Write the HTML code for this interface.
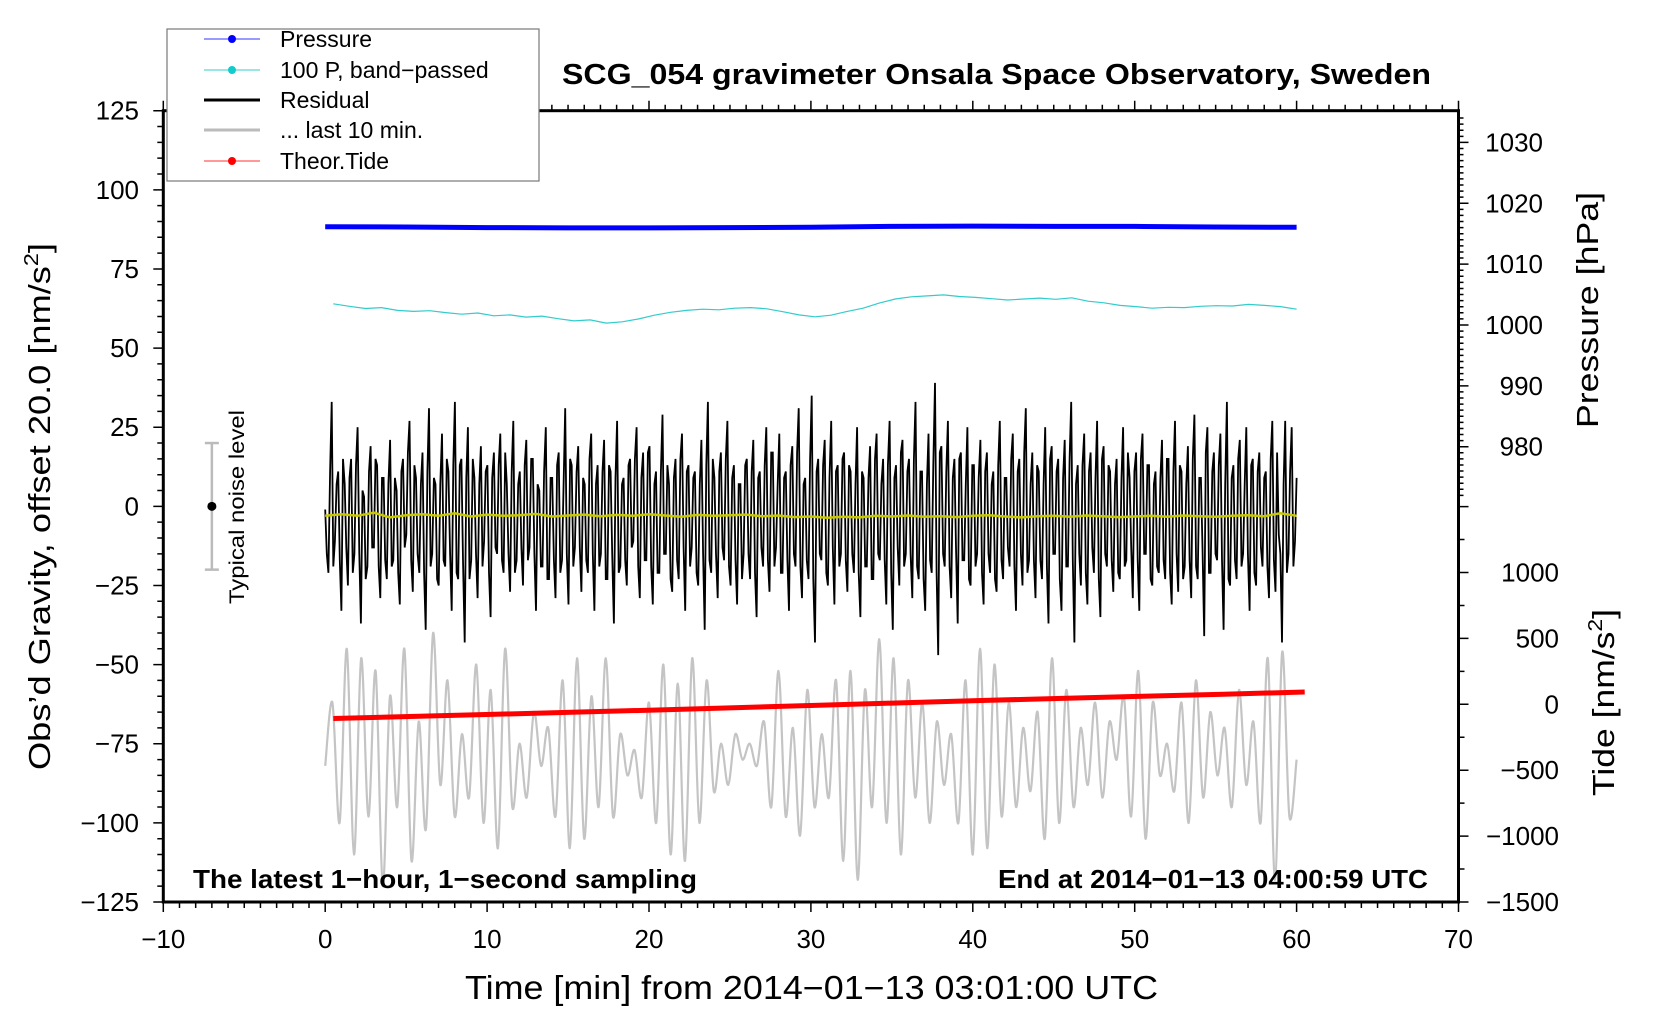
<!DOCTYPE html>
<html><head><meta charset="utf-8"><style>
html,body{margin:0;padding:0;background:#fff;}
svg{display:block;font-family:"Liberation Sans",sans-serif;}
</style></head><body>
<svg id="chart" width="1660" height="1020" viewBox="0 0 1660 1020" xmlns="http://www.w3.org/2000/svg">
<rect width="1660" height="1020" fill="#fff"/>
<g id="marks"></g>
<g id="axes"></g>
<rect x="163.3" y="110.7" width="1295.2" height="791.3" fill="none" stroke="#000" stroke-width="3"/>
<text x="562" y="84" font-size="29" font-weight="bold" textLength="869" lengthAdjust="spacingAndGlyphs">SCG_054 gravimeter Onsala Space Observatory, Sweden</text>
<text x="193" y="888" font-size="26" font-weight="bold" textLength="504" lengthAdjust="spacingAndGlyphs">The latest 1−hour, 1−second sampling</text>
<text x="998" y="888" font-size="26" font-weight="bold" textLength="430" lengthAdjust="spacingAndGlyphs">End at 2014−01−13 04:00:59 UTC</text>
<text x="465" y="999" font-size="33" textLength="693" lengthAdjust="spacingAndGlyphs">Time [min] from 2014−01−13 03:01:00 UTC</text>
<text transform="translate(50,770) rotate(-90)" font-size="31" textLength="527" lengthAdjust="spacingAndGlyphs">Obs’d Gravity, offset 20.0 [nm/s<tspan dy="-12" font-size="20">2</tspan><tspan dy="12">]</tspan></text>
<text transform="translate(1598,428) rotate(-90)" font-size="31" textLength="236" lengthAdjust="spacingAndGlyphs">Pressure [hPa]</text>
<text transform="translate(1614,796) rotate(-90)" font-size="31" textLength="187" lengthAdjust="spacingAndGlyphs">Tide [nm/s<tspan dy="-12" font-size="20">2</tspan><tspan dy="12">]</tspan></text>
<g>
<line id="nb" stroke="#bbb" stroke-width="2.5"/><line id="nb1" stroke="#bbb" stroke-width="2.5"/><line id="nb2" stroke="#bbb" stroke-width="2.5"/><circle id="nbd" r="4.5" fill="#000"/>
<text transform="translate(244,604) rotate(-90)" font-size="21" textLength="194" lengthAdjust="spacingAndGlyphs">Typical noise level</text>
</g>
<g>
<rect x="167" y="29" width="372" height="152" fill="#fff" stroke="#777" stroke-width="1.2"/>
<g><line x1="204" y1="39" x2="260" y2="39" stroke="#33f" stroke-width="1"/><circle cx="232" cy="39" r="4" fill="#00f"/><text x="280" y="47" font-size="23">Pressure</text></g>
<g><line x1="204" y1="70" x2="260" y2="70" stroke="#3cc" stroke-width="1"/><circle cx="232" cy="70" r="4" fill="#1cc"/><text x="280" y="78" font-size="23">100 P, band−passed</text></g>
<g><line x1="204" y1="100" x2="260" y2="100" stroke="#000" stroke-width="3"/><text x="280" y="108" font-size="23">Residual</text></g>
<g><line x1="204" y1="130" x2="260" y2="130" stroke="#bbb" stroke-width="3"/><text x="280" y="138" font-size="23">... last 10 min.</text></g>
<g><line x1="204" y1="161" x2="260" y2="161" stroke="#f33" stroke-width="1"/><circle cx="232" cy="161" r="4" fill="#f00"/><text x="280" y="169" font-size="23">Theor.Tide</text></g>
</g>
</svg>
<script>
const pressureHpa=[1016.15,1016.1,1016.0,1015.95,1015.95,1016.0,1016.05,1016.2,1016.25,1016.2,1016.2,1016.1,1016.05];
const bandPassed=[64,63.2,62.5,62.8,61.9,61.6,61.8,61.2,60.7,61.1,60.2,60.5,59.8,60.1,59.3,58.6,58.9,57.9,58.3,59.2,60.4,61.3,61.9,62.3,62.1,62.6,62.8,62.4,61.5,60.5,59.9,60.4,61.6,62.6,64.2,65.5,66.2,66.5,66.8,66.3,66,65.6,65.2,65.5,65.8,65.4,65.9,64.8,64.3,63.5,63.1,62.6,62.9,62.8,63.2,63.4,63.3,63.8,63.5,63.1,62.3];
const residual=[2,-18,36,-8,14,-30,10,-22,18,-12,28,-34,6,-16,22,-10,16,-26,12,-20,
24,-14,8,-28,18,-6,30,-24,12,-18,20,-36,34,-12,10,-22,26,-16,14,-30,
36,-20,18,-40,28,-14,12,-26,22,-8,16,-32,20,-12,26,-18,10,-24,30,-14,
14,-22,24,-10,18,-30,8,-16,28,-20,12,-26,20,-14,34,-28,16,-10,22,-24,
10,-18,26,-30,16,-12,24,-20,14,-34,30,-16,12,-22,18,-8,28,-26,20,-14,
22,-28,14,-18,32,-12,10,-24,18,-20,26,-30,16,-10,14,-22,24,-36,36,-18,
12,-26,20,-14,30,-22,16,-28,10,-12,18,-20,24,-32,14,-16,28,-24,20,-10,
26,-18,14,-30,22,-16,34,-26,12,-20,38,-40,18,-14,24,-22,30,-28,16,-12,
20,-24,14,-18,28,-32,12,-16,22,-20,26,-14,18,-28,30,-36,16,-22,24,-12,
18,-26,36,-20,14,-30,26,-18,42,-44,22,-16,30,-26,18,-34,20,-14,28,-22,
16,-12,24,-28,20,-18,14,-24,30,-20,12,-16,26,-30,18,-22,34,-14,20,-26,
14,-20,28,-34,22,-12,18,-30,24,-16,36,-40,16,-22,26,-28,20,-18,30,-32,
22,-16,14,-24,18,-20,28,-14,12,-26,20,-30,26,-12,16,-22,14,-18,24,-20,
18,-28,30,-24,14,-16,22,-26,32,-20,12,-38,28,-18,20,-14,26,-36,36,-22,
16,-20,24,-12,28,-30,18,-22,20,-16,14,-26,30,-24,-6,-40,30,-12,28,-8];
const residualB=[-12,14,-16,10,-14,18,-10,12,-18,16,-12,8,-20,14,-10,18,-16,12,-14,10,
-16,12,-18,14,-10,20,-14,16,-12,10,-18,14,-16,12,-20,10,-14,18,-12,16,
-18,16,-14,12,-20,18,-12,10,-16,14,-18,12,-10,16,-14,20,-12,14,-18,10,
-10,16,-14,18,-12,10,-16,14,-20,12,-14,16,-18,10,-12,18,-16,14,-10,12,
-14,18,-12,10,-16,14,-20,16,-12,12,-18,10,-14,16,-10,18,-16,12,-14,20,
-16,10,-18,14,-12,16,-20,12,-14,18,-10,14,-16,12,-18,10,-12,16,-14,18,
-12,14,-10,18,-16,12,-14,10,-20,16,-12,14,-18,12,-10,16,-14,20,-16,10,
-18,12,-14,16,-12,20,-16,10,-14,18,-20,14,-12,16,-18,12,-10,14,-16,18,
-14,16,-12,10,-18,14,-16,12,-20,18,-12,10,-14,16,-18,12,-10,20,-16,14,
-12,18,-16,14,-20,10,-14,16,-18,20,-12,14,-16,12,-10,18,-14,10,-20,16,
-16,12,-18,14,-12,10,-20,16,-14,12,-10,18,-16,14,-12,20,-18,10,-14,16,
-14,10,-16,18,-12,14,-20,12,-16,18,-14,10,-12,16,-18,14,-10,12,-20,18,
-12,16,-14,10,-18,12,-16,20,-10,14,-14,18,-12,16,-20,10,-16,12,-14,18,
-18,14,-12,16,-20,10,-14,18,-16,12,-10,20,-18,14,-12,16,-14,10,-20,12,
-14,18,-16,10,-12,16,-18,14,-10,12,-16,18,-14,20,-12,10,-18,14,-16,12];
const residualMean=[-3,-2.5,-3,-2,-3.5,-2.8,-2.5,-3,-2.2,-3.2,-2.6,-3,-2.8,-2.4,-3.2,-2.9,-2.6,-3.1,-2.7,-3,-2.5,-2.9,-3.3,-2.7,-3,-2.8,-2.6,-3.1,-2.9,-3.4,-3.2,-3.6,-3.3,-3.5,-3,-3.2,-2.9,-3.3,-3.1,-3.4,-3,-2.8,-3.2,-3.5,-3.1,-3,-3.3,-2.9,-3.1,-3.4,-3.2,-3,-3.3,-2.9,-3.1,-3.3,-3,-2.8,-3.1,-2.2,-3];
const last10=[-82,-62,-100,-45,-110,-48,-98,-52,-120,-60,-95,-45,-112,-68,-102,-40,-88,-55,-98,-72,-92,-50,-100,-58,-108,-45,-95,-75,-92,-65,-82,-70,-98,-55,-108,-48,-105,-60,-95,-48,-98,-72,-85,-77,-92,-62,-100,-50,-110,-56,-112,-48,-100,-55,-90,-75,-88,-72,-80,-75,-82,-68,-95,-52,-98,-70,-104,-58,-95,-72,-92,-55,-112,-52,-118,-58,-95,-42,-100,-48,-110,-55,-92,-62,-100,-68,-88,-72,-100,-55,-110,-45,-108,-50,-98,-62,-95,-70,-90,-65,-105,-48,-100,-58,-95,-70,-88,-62,-92,-68,-80,-60,-98,-52,-105,-62,-85,-75,-90,-62,-100,-55,-92,-65,-85,-70,-95,-58,-88,-68,-100,-48,-118,-46,-98,-80];
const tideNms=[-108,-92,-76,-59,-43,-25,-7,11,29,45,61,77,93];
const xTicks=[-10,0,10,20,30,40,50,60,70];
const yTicks=[125,100,75,50,25,0,-25,-50,-75,-100,-125];
const pTicks=[1030,1020,1010,1000,990,980];
const tTicks=[1000,500,0,-500,-1000,-1500];

const NS='http://www.w3.org/2000/svg';
const X=t=>163.3+(t+10)*16.19;
const YL=v=>110.7+(125-v)*3.1652;
const YP=p=>142.4+(1030-p)*6.086;
const YT=t=>704.3-t*0.1318;
const marks=document.getElementById('marks'), axes=document.getElementById('axes');
function mk(tag,attrs,parent){const e=document.createElementNS(NS,tag);for(const k in attrs)e.setAttribute(k,attrs[k]);parent.appendChild(e);return e;}
function poly(vals,t0,t1,yf){const n=vals.length;return vals.map((v,i)=>X(t0+(t1-t0)*i/(n-1)).toFixed(1)+','+yf(v).toFixed(1)).join(' ');}
function smooth(vals,t0,t1,yf){const n=vals.length;const P=vals.map((v,i)=>[X(t0+(t1-t0)*i/(n-1)),yf(v)]);let d='M'+P[0][0].toFixed(1)+','+P[0][1].toFixed(1);
for(let i=0;i<n-1;i++){const p0=P[Math.max(i-1,0)],p1=P[i],p2=P[i+1],p3=P[Math.min(i+2,n-1)];
d+=' C'+(p1[0]+(p2[0]-p0[0])/6).toFixed(1)+','+(p1[1]+(p2[1]-p0[1])/6).toFixed(1)+' '+(p2[0]-(p3[0]-p1[0])/6).toFixed(1)+','+(p2[1]-(p3[1]-p1[1])/6).toFixed(1)+' '+p2[0].toFixed(1)+','+p2[1].toFixed(1);}return d;}

const resAll=[];
for(let i=0;i<residual.length;i++){resAll.push(residual[i]-3);if(i<residualB.length)resAll.push(residualB[i]-3);}

let e;
e=mk('path',{d:smooth(last10,0,60,YL),fill:'none',stroke:'#c4c4c4','stroke-width':2.2},marks);


e=mk('polyline',{points:poly(resAll,0,60,YL),fill:'none',stroke:'#000','stroke-width':1.8},marks);


e=mk('polyline',{points:poly(residualMean,0,60,YL),fill:'none',stroke:'#c8c800','stroke-width':2.5},marks);


e=mk('polyline',{points:poly(bandPassed,0.5,60,YL),fill:'none',stroke:'#33cccc','stroke-width':1.2},marks);


e=mk('polyline',{points:poly(pressureHpa,0,60,YP),fill:'none',stroke:'#0000ff','stroke-width':5},marks);


e=mk('polyline',{points:poly(tideNms,0.5,60.5,YT),fill:'none',stroke:'#ff0000','stroke-width':5},marks);



const nx=X(-7);
[['nb',nx,YL(20),nx,YL(-20)],['nb1',nx-7,YL(20),nx+7,YL(20)],['nb2',nx-7,YL(-20),nx+7,YL(-20)]].forEach(a=>{const l=document.getElementById(a[0]);l.setAttribute('x1',a[1]);l.setAttribute('y1',a[2]);l.setAttribute('x2',a[3]);l.setAttribute('y2',a[4]);});
document.getElementById('nbd').setAttribute('cx',nx);document.getElementById('nbd').setAttribute('cy',YL(0));

let d='';
for(let t=-10;t<=70;t++){const x=X(t),L=(t%10===0)?10:6;d+=`M${x},902v${L}M${x},110.7v${-L}`;}
for(let v=-125;v<=125;v+=5){const y=YL(v),L=(v%25===0)?10:6;d+=`M163.3,${y}h${-L}`;}
for(let p=972;p<=1035;p++){const y=YP(p);if(y<112)continue;const L=(p%10===0)?10:5;d+=`M1458.5,${y}h${L}`;}
for(let t=-1500;t<=1500;t+=250){const y=YT(t);if(y<480)continue;const L=(t%500===0)?10:6;d+=`M1458.5,${y}h${L}`;}
e=mk('path',{d:d,stroke:'#000','stroke-width':1.5,fill:'none'},axes);


const lab=(s)=>String(s).replace('-','−');
xTicks.forEach(t=>{e=mk('text',{x:X(t),y:948,'font-size':26,'text-anchor':'middle'},axes);e.textContent=lab(t);

});
yTicks.forEach(v=>{e=mk('text',{x:139,y:YL(v)+9,'font-size':26,'text-anchor':'end'},axes);e.textContent=lab(v);

});
pTicks.forEach(p=>{e=mk('text',{x:1543,y:YP(p)+9,'font-size':26,'text-anchor':'end'},axes);e.textContent=lab(p);

});
tTicks.forEach(t=>{e=mk('text',{x:1559,y:YT(t)+9,'font-size':26,'text-anchor':'end'},axes);e.textContent=lab(t);

});
</script>
</body></html>
